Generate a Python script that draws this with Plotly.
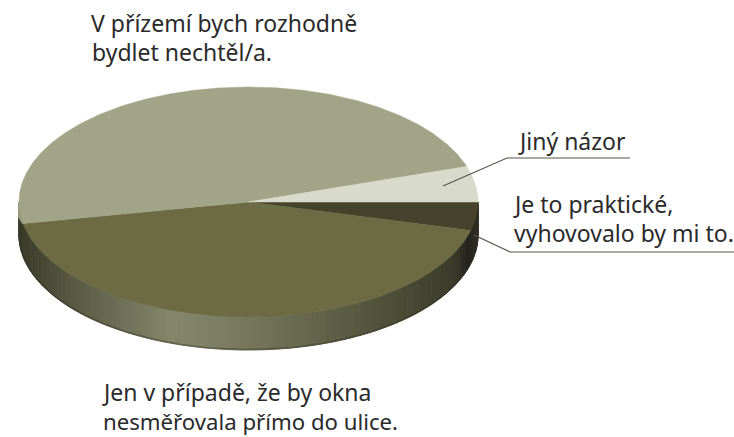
import numpy as np
import plotly.graph_objects as go

# Survey shares in percent, clockwise starting from the 3 o'clock direction
categories = ["Je to praktické", "Jen v případě", "V přízemí", "Jiný názor"]
shares = [4, 43, 48, 5]
top_colors = ["#46422c", "#6d6b43", "#a2a487", "#d8dacb"]

# Rim shading, sampled along the horizontal extent of the disc
rim_stop_pos = [0.0, 0.03, 0.12, 0.25, 0.33, 0.42, 0.5, 0.656, 0.83, 0.95, 0.975, 1.0]
rim_stop_rgb = [
    (58, 58, 42), (66, 66, 48), (90, 90, 68), (116, 118, 92), (133, 134, 106),
    (126, 128, 102), (118, 119, 93), (99, 99, 74), (76, 76, 54), (58, 58, 42),
    (36, 34, 30), (50, 47, 36),
]

# Text, left edge, vertical centre, font size
label_lines = [
    ("V přízemí bych rozhodně", 89, 23, 23),
    ("bydlet nechtěl/a.", 90, 52, 23),
    ("Jiný názor", 516, 141, 23),
    ("Je to praktické,", 511, 204, 23),
    ("vyhovovalo by mi to.", 512, 233, 23),
    ("Jen v případě, že by okna", 100, 392, 23),
    ("nesměřovala přímo do ulice.", 101, 421, 22.2),
]
leaders = [
    ([443, 507, 630], [186, 158, 158]),
    ([474, 510, 734], [235, 252, 252]),
]

CX, CY, RX, RY, DEPTH = 248.5, 202.0, 229.5, 115.0, 33.0
SIDE_LIP = 15.0


def ell(theta_deg, dy=0.0):
    t = np.radians(theta_deg)
    return CX + RX * np.cos(t), CY + RY * np.sin(t) + dy


fig = go.Figure()

# Rim: thin vertical strips between the upper and lower ellipse arcs
edges = np.linspace(0, 180, 181)
for a0, a1 in zip(edges[:-1], edges[1:]):
    arc = np.linspace(a0, a1, 3)
    xt, yt = ell(arc)
    xb, yb = ell(arc[::-1], DEPTH)
    u = (ell((a0 + a1) / 2)[0] - (CX - RX)) / (2 * RX)
    rgb = [np.interp(u, rim_stop_pos, [c[i] for c in rim_stop_rgb]) for i in range(3)]
    col = "rgb({:.0f},{:.0f},{:.0f})".format(*rgb)
    fig.add_trace(go.Scatter(
        x=np.r_[xt, xb, xt[0]], y=np.r_[yt, yb, yt[0]], mode="lines",
        fill="toself", fillcolor=col, line=dict(color=col, width=1),
        hoverinfo="skip", showlegend=False,
    ))

# Soft dark edge along the underside of the disc
edge_arc = np.linspace(3, 177, 200)
ex, ey = ell(edge_arc, DEPTH - 0.5)
fig.add_trace(go.Scatter(
    x=ex, y=ey, mode="lines", line=dict(color="rgba(50,50,36,0.45)", width=1.5),
    hoverinfo="skip", showlegend=False,
))

bounds = np.r_[0, np.cumsum(shares)] / np.sum(shares) * 360

# Pale lip of the largest slice where it turns over the left edge
lip_arc = np.linspace(bounds[2], 180, 16)
lx_top, ly_top = ell(lip_arc)
lip_x, lip_y = ell(180, SIDE_LIP)
fig.add_trace(go.Scatter(
    x=np.r_[lx_top, lip_x, lx_top[0]], y=np.r_[ly_top, lip_y, ly_top[0]], mode="lines",
    fill="toself", fillcolor="rgb(150,152,126)",
    line=dict(color="rgb(150,152,126)", width=2),
    hoverinfo="skip", showlegend=False,
))

# Top face: one wedge per category, swept from the shares
for name, col, a0, a1 in zip(categories, top_colors, bounds[:-1], bounds[1:]):
    arc = np.linspace(a0, a1, max(int(a1 - a0) * 2, 8))
    xs, ys = ell(arc)
    fig.add_trace(go.Scatter(
        x=np.r_[CX, xs, CX], y=np.r_[CY, ys, CY], mode="lines",
        fill="toself", fillcolor=col, line=dict(color=col, width=0.5),
        name=name, hoverinfo="name", showlegend=False,
    ))

for lx, ly in leaders:
    fig.add_trace(go.Scatter(
        x=lx, y=ly, mode="lines", line=dict(color="#55554f", width=1.2),
        hoverinfo="skip", showlegend=False,
    ))

for text, x, y, size in label_lines:
    fig.add_annotation(
        x=x, y=y, text=text, showarrow=False, xanchor="left", yanchor="middle",
        font=dict(family="Noto Sans", size=size, color="#2a2a2a"),
    )

fig.update_xaxes(range=[0, 734], visible=False, fixedrange=True)
fig.update_yaxes(range=[437, 0], visible=False, fixedrange=True)
fig.update_layout(
    width=734, height=437, margin=dict(l=0, r=0, t=0, b=0),
    paper_bgcolor="white", plot_bgcolor="white",
)
fig.write_html("out.html")
